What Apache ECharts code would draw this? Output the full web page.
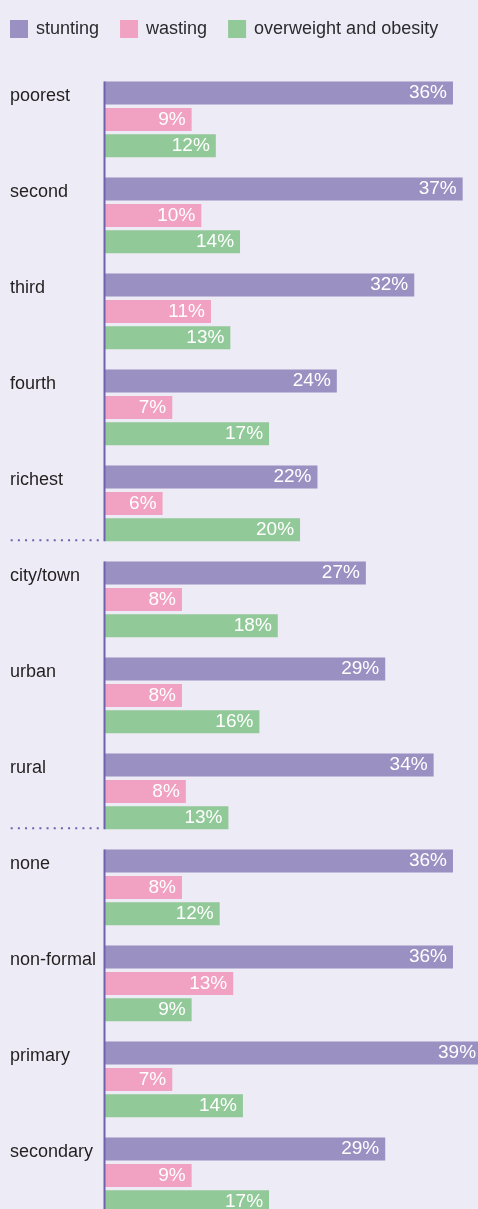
<!DOCTYPE html>
<html>
<head>
<meta charset="utf-8">
<script src="https://cdn.jsdelivr.net/npm/echarts@6/dist/echarts.min.js"></script>
<style>
html,body{margin:0;padding:0;background:#EDEBF5;}
#c{width:478px;height:1209px;}
</style>
</head>
<body>
<div id="c"></div>
<script>
const categories = ['poorest','second','third','fourth','richest','city/town','urban','rural','none','non-formal','primary','secondary'];
const seriesNames = ['stunting','wasting','overweight and obesity'];
const stunting   = [36, 37, 32, 24, 22, 27, 29, 34, 36, 36, 39, 29];
const wasting    = [9, 10, 11, 7, 6, 8, 8, 8.4, 8, 13.3, 7, 9];
const overweight = [11.5, 14, 13, 17, 20.2, 17.9, 16, 12.8, 11.9, 9, 14.3, 17];
const sections = [['poorest','richest'], ['city/town','rural'], ['none','secondary']];

const colors = ['#9A90C2', '#F1A1C1', '#92C999'];
const FONT = 'Liberation Sans';
const BAR_W = 23;
const BAR_GAP = 0.15;

const chart = echarts.init(document.getElementById('c'), null, {renderer: 'canvas'});

function mkSeries(name, data, color) {
  return {
    name: name,
    type: 'bar',
    data: data,
    barWidth: BAR_W,
    barGap: (BAR_GAP * 100) + '%',
    itemStyle: {color: color},
    label: {
      show: true,
      position: 'insideRight',
      distance: 6,
      color: '#FFFFFF',
      fontFamily: FONT,
      fontSize: 19,
      formatter: p => Math.round(p.value) + '%'
    },
    silent: true,
    animation: false
  };
}

chart.setOption({
  backgroundColor: '#EDEBF5',
  animation: false,
  legend: {
    left: 10,
    top: 20,
    padding: 0,
    itemWidth: 18,
    itemHeight: 18,
    itemGap: 21,
    icon: 'rect',
    data: seriesNames,
    textStyle: {fontFamily: FONT, fontSize: 18, color: '#2B2A2E', padding: [0, 0, 0, 3]},
    selectedMode: false
  },
  grid: {
    left: 104.5,
    top: 71.4,
    width: 387.2,
    height: 1152,
    outerBoundsMode: 'none',
    containLabel: false
  },
  xAxis: {
    type: 'value',
    min: 0,
    max: 40,
    show: false
  },
  yAxis: {
    type: 'category',
    data: categories,
    inverse: true,
    axisLine: {show: false},
    axisTick: {show: false},
    splitLine: {show: false},
    axisLabel: {
      align: 'left',
      margin: 94.5,
      fontFamily: FONT,
      fontSize: 18,
      color: '#231F20',
      verticalAlign: 'bottom',
      lineHeight: 46
    }
  },
  series: [
    mkSeries(seriesNames[0], stunting, colors[0]),
    mkSeries(seriesNames[1], wasting, colors[1]),
    mkSeries(seriesNames[2], overweight, colors[2])
  ]
});

// axis line segments per section and dotted separators between sections
const halfGroup = (3 * BAR_W + 2 * BAR_GAP * BAR_W) / 2;
const x0 = chart.convertToPixel({xAxisIndex: 0}, 0);
const graphics = [];
sections.forEach((s, i) => {
  const yTop = chart.convertToPixel({yAxisIndex: 0}, s[0]) - halfGroup;
  const yBot = chart.convertToPixel({yAxisIndex: 0}, s[1]) + halfGroup;
  graphics.push({
    type: 'line', z: 10,
    shape: {x1: x0, y1: yTop, x2: x0, y2: yBot},
    style: {stroke: '#6E62B0', lineWidth: 2}
  });
  if (i < sections.length - 1) {
    graphics.push({
      type: 'line', z: 10,
      shape: {x1: 10.7, y1: yBot - 1, x2: 100, y2: yBot - 1},
      style: {stroke: '#6E62B0', lineWidth: 2, lineDash: [2, 5.17]}
    });
  }
});
chart.setOption({graphic: graphics});
</script>
</body>
</html>
